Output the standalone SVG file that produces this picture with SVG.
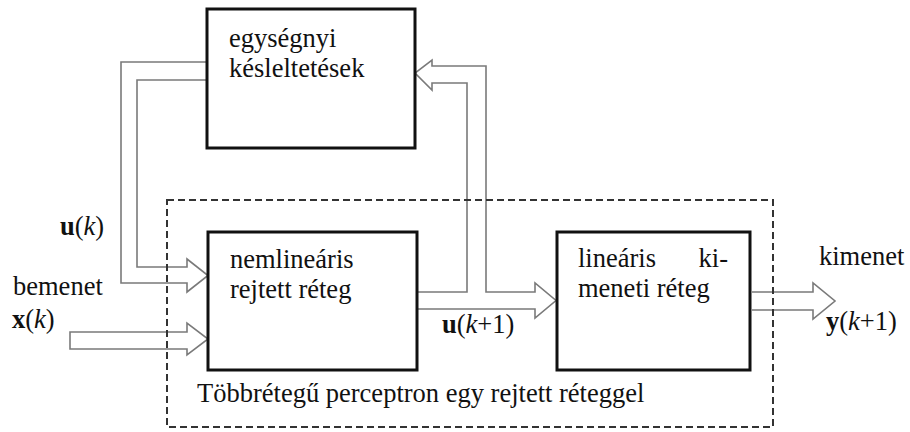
<svg xmlns="http://www.w3.org/2000/svg" width="910" height="432" viewBox="0 0 910 432">
  <style>
    text { font-family: "Liberation Serif", "Times New Roman", serif; font-size: 26.5px; fill: #111; }
    .b { font-weight: bold; }
    .i { font-style: italic; }
    .box { fill: #fff; stroke: #111; stroke-width: 3; }
    .flow { fill: none; stroke: #7a7a7a; stroke-width: 1.6; stroke-linejoin: miter; }
    .frame { fill: none; stroke: #333; stroke-width: 2; stroke-dasharray: 7 4; }
  </style>
  <rect width="910" height="432" fill="#fff"/>

  <!-- double-line arrows -->
  <g id="connectors">
    <!-- delayed state u(k) back into the hidden layer -->
    <path class="flow" d="M207,62 H121 V283 H187 V292 L208,275.5 L187,259 V267 H137 V80 H207"/>
    <!-- input x(k) -->
    <path class="flow" d="M70,332 H187 V323 L208,339 L187,355 V349 H70 Z"/>
    <!-- hidden output u(k+1): to output layer and to delay block -->
    <path class="flow" d="M417,292 H467 V83 H432 V90 L415,73 L432,60 V66 H486 V292 H535 V283 L556,300.5 L535,318 V309 H417"/>
    <!-- output y(k+1) -->
    <path class="flow" d="M752,292 H813 V283 L835,301 L813,319 V310 H752"/>
  </g>

  <!-- multilayer perceptron frame -->
  <g id="mlp">
    <rect class="frame" x="167" y="200" width="606" height="227"/>
    <text x="197" y="402">Többrétegű perceptron egy rejtett réteggel</text>
  </g>

  <g id="delay">
    <rect class="box" x="207" y="9" width="208" height="139"/>
    <text x="229" y="47">egységnyi</text>
    <text x="229" y="77">késleltetések</text>
  </g>

  <g id="hidden">
    <rect class="box" x="208" y="232" width="209" height="138"/>
    <text x="230" y="268">nemlineáris</text>
    <text x="230" y="298">rejtett réteg</text>
  </g>

  <g id="output">
    <rect class="box" x="557" y="232" width="193" height="138"/>
    <text x="578" y="267">lineáris</text>
    <text x="728" y="267" text-anchor="end">ki-</text>
    <text x="578" y="297">meneti réteg</text>
  </g>

  <!-- signal labels -->
  <g id="labels">
    <text x="60" y="235"><tspan class="b">u</tspan>(<tspan class="i">k</tspan>)</text>
    <text x="13" y="295">bemenet</text>
    <text x="12" y="328"><tspan class="b">x</tspan>(<tspan class="i">k</tspan>)</text>
    <text x="442" y="333"><tspan class="b">u</tspan>(<tspan class="i">k</tspan>+1)</text>
    <text x="819" y="265">kimenet</text>
    <text x="826" y="330"><tspan class="b">y</tspan>(<tspan class="i">k</tspan>+1)</text>
  </g>
</svg>
